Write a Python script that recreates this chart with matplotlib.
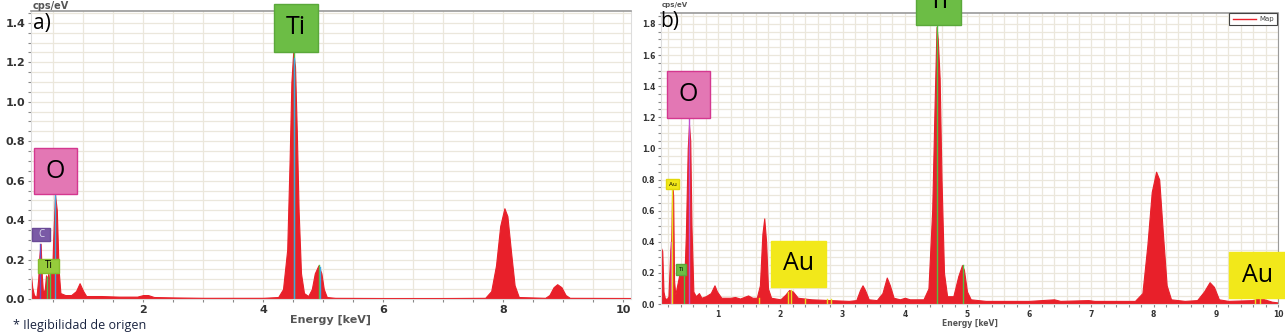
import numpy as np
import matplotlib.pyplot as plt
from matplotlib.patches import Rectangle
from matplotlib.ticker import MultipleLocator

# spectrum a) : energy (keV), counts (cps/eV)
energy_a = [0.13, 0.15, 0.18, 0.22, 0.25, 0.27, 0.29, 0.31, 0.33, 0.36, 0.38, 0.40, 0.42, 0.44,
            0.46, 0.48, 0.50, 0.53, 0.56, 0.59, 0.62, 0.70, 0.80, 0.88, 0.94, 1.00, 1.05, 1.30,
            1.60, 1.90, 2.00, 2.08, 2.18, 2.50, 3.00, 3.50, 4.00, 4.25, 4.33, 4.40, 4.44, 4.47,
            4.50, 4.53, 4.56, 4.59, 4.63, 4.68, 4.75, 4.81, 4.86, 4.92, 4.97, 5.01, 5.06, 5.20,
            6.00, 7.00, 7.70, 7.80, 7.88, 7.95, 8.02, 8.07, 8.13, 8.19, 8.26, 8.70, 8.77, 8.84,
            8.90, 8.97, 9.04, 9.11, 10.2]
counts_a = [0.12, 0.06, 0.02, 0.01, 0.10, 0.22, 0.28, 0.12, 0.03, 0.05, 0.12, 0.10, 0.13, 0.08,
            0.14, 0.10, 0.30, 0.53, 0.45, 0.15, 0.03, 0.02, 0.02, 0.04, 0.08, 0.04, 0.015, 0.015,
            0.012, 0.012, 0.02, 0.02, 0.01, 0.008, 0.006, 0.006, 0.006, 0.01, 0.05, 0.25, 0.70, 1.10,
            1.25, 1.18, 0.85, 0.45, 0.13, 0.03, 0.015, 0.05, 0.13, 0.17, 0.13, 0.05, 0.01, 0.006,
            0.005, 0.005, 0.006, 0.04, 0.17, 0.37, 0.46, 0.42, 0.24, 0.07, 0.01, 0.006, 0.02, 0.06,
            0.075, 0.06, 0.02, 0.006, 0.005]

# spectrum b)
energy_b = [0.08, 0.10, 0.12, 0.14, 0.17, 0.20, 0.23, 0.245, 0.26, 0.275, 0.29, 0.31, 0.34, 0.37,
            0.40, 0.43, 0.46, 0.48, 0.51, 0.53, 0.55, 0.57, 0.60, 0.64, 0.69, 0.73, 0.80, 0.88,
            0.94, 0.98, 1.05, 1.20, 1.27, 1.35, 1.48, 1.55, 1.62, 1.67, 1.71, 1.74, 1.77, 1.80,
            1.85, 2.00, 2.08, 2.14, 2.20, 2.28, 2.50, 2.80, 3.10, 3.22, 3.28, 3.32, 3.36, 3.42,
            3.55, 3.64, 3.71, 3.76, 3.82, 3.92, 4.00, 4.08, 4.30, 4.38, 4.44, 4.48, 4.51, 4.53,
            4.56, 4.59, 4.63, 4.68, 4.78, 4.86, 4.92, 4.95, 5.00, 5.06, 5.30, 6.00, 6.40, 6.50,
            6.95, 7.05, 7.70, 7.82, 7.90, 7.97, 8.04, 8.09, 8.15, 8.21, 8.28, 8.50, 8.70, 8.81,
            8.90, 8.97, 9.05, 9.20, 9.60, 9.70, 9.78, 9.90, 10.0]
counts_b = [0.36, 0.34, 0.08, 0.04, 0.03, 0.05, 0.35, 0.42, 0.75, 0.70, 0.15, 0.06, 0.12, 0.18,
            0.20, 0.19, 0.22, 0.45, 1.00, 1.15, 1.05, 0.50, 0.08, 0.05, 0.07, 0.04, 0.05, 0.07,
            0.12, 0.08, 0.04, 0.04, 0.045, 0.035, 0.055, 0.04, 0.04, 0.12, 0.45, 0.55, 0.40, 0.10,
            0.04, 0.03, 0.06, 0.09, 0.08, 0.04, 0.03, 0.025, 0.02, 0.025, 0.09, 0.12, 0.09, 0.03,
            0.025, 0.07, 0.17, 0.12, 0.04, 0.03, 0.04, 0.03, 0.03, 0.10, 0.60, 1.30, 1.78, 1.70,
            1.45, 0.80, 0.20, 0.05, 0.05, 0.18, 0.25, 0.22, 0.08, 0.03, 0.02, 0.02, 0.03, 0.02,
            0.025, 0.02, 0.02, 0.07, 0.38, 0.72, 0.85, 0.80, 0.45, 0.12, 0.03, 0.02, 0.025, 0.08,
            0.14, 0.11, 0.03, 0.02, 0.025, 0.04, 0.03, 0.015, 0.01]

# element marker lines: energy, height, colour
marks_a = [(0.277, 0.28, '#6a4fc8'), (0.39, 0.11, '#4cc04c'), (0.45, 0.13, '#4cc04c'),
           (0.525, 0.56, '#3fa8e0'), (4.51, 1.25, '#55c040'), (4.52, 1.22, '#3fa8e0'),
           (4.93, 0.17, '#55c040'), (4.94, 0.16, '#3fa8e0')]
marks_b = [(0.24, 0.40, '#e060c0'), (0.255, 0.75, '#e8e020'), (0.45, 0.18, '#4cc04c'),
           (0.525, 1.20, '#c050d0'), (1.65, 0.04, '#e8e020'), (2.12, 0.08, '#e8e020'),
           (2.17, 0.09, '#e8e020'), (2.40, 0.03, '#e8e020'), (2.75, 0.03, '#e8e020'),
           (2.82, 0.03, '#e8e020'), (4.51, 1.80, '#55c040'), (4.93, 0.25, '#55c040'),
           (9.63, 0.03, '#e8e020'), (9.71, 0.04, '#e8e020')]

W, H = 1285, 335
fig = plt.figure(figsize=(W / 100, H / 100), dpi=100)
plt.rcParams['font.family'] = ['DejaVu Sans']

def axes_px(x0, y0, x1, y1):
    return fig.add_axes([x0 / W, 1 - y1 / H, (x1 - x0) / W, (y1 - y0) / H])

def box(x0, y0, x1, y1, fc, ec, label, size, tc='black', ty=None):
    fig.add_artist(Rectangle((x0 / W, 1 - y1 / H), (x1 - x0) / W, (y1 - y0) / H,
                             transform=fig.transFigure, fc=fc, ec=ec, lw=1, clip_on=False))
    cy = (y0 + y1) / 2 if ty is None else ty
    fig.text((x0 + x1) / 2 / W, 1 - cy / H, label, ha='center', va='center',
             fontsize=size, color=tc, family='Open Sans')

def style(ax, xlim, ylim, xmaj, xgrid, tsize):
    ax.set_xlim(*xlim)
    ax.set_ylim(*ylim)
    ax.xaxis.set_major_locator(MultipleLocator(xmaj))
    ax.xaxis.set_minor_locator(MultipleLocator(xgrid))
    ax.yaxis.set_major_locator(MultipleLocator(0.2))
    ax.yaxis.set_minor_locator(MultipleLocator(0.05))
    ax.yaxis.set_major_formatter(lambda v, p: f'{v:.1f}')
    ax.xaxis.set_major_formatter(lambda v, p: f'{v:g}')
    ax.grid(which='both', color='#ebe7dc', lw=0.9)
    ax.set_axisbelow(True)
    ax.tick_params(which='both', labelsize=tsize, colors='#888888', labelcolor='#333333',
                   length=2.5, width=0.8, pad=1.5)
    for lab in ax.get_xticklabels() + ax.get_yticklabels():
        lab.set_fontweight('bold')
    for s in ax.spines.values():
        s.set_color('#dddddd')
    ax.spines['top'].set_color('#9a9a9a')
    ax.spines['top'].set_linewidth(1.2)

# panel a
ax1 = axes_px(31, 11, 631, 299)
ax1.fill_between(energy_a, counts_a, color='#e8202a', lw=0.8, edgecolor='#e8202a')
for e, h, c in marks_a:
    ax1.plot([e, e], [0, h], color=c, lw=1.0)
style(ax1, (0.13, 10.13), (0, 1.46), 2, 0.5, 8)
ax1.set_xlabel('Energy [keV]', fontsize=8, fontweight='bold', color='#555555', labelpad=0)
fig.text(33 / W, 1 - 6 / H, 'cps/eV', fontsize=7, fontweight='bold', color='#555555',
         va='center')
fig.text(33 / W, 1 - 23 / H, 'a)', fontsize=15, va='center', family='Open Sans')

# panel b
ax2 = axes_px(661, 13, 1278, 304)
ax2.fill_between(energy_b, counts_b, color='#e8202a', lw=0.8, edgecolor='#e8202a', label='Map')
for e, h, c in marks_b:
    ax2.plot([e, e], [0, h], color=c, lw=1.0)
style(ax2, (0.08, 10.0), (0, 1.87), 1, 0.2, 5.5)
ax2.spines['right'].set_color('#9a9a9a')
ax2.set_xlabel('Energy [keV]', fontsize=5.5, fontweight='bold', color='#555555', labelpad=0)
fig.text(662 / W, 1 - 5 / H, 'cps/eV', fontsize=5, fontweight='bold', color='#555555',
         va='center')
fig.text(660 / W, 1 - 22 / H, 'b)', fontsize=15, va='center', family='Open Sans')

# legend "Map"
fig.add_artist(Rectangle((1229 / W, 1 - 25 / H), 48 / W, 12 / H, transform=fig.transFigure,
                         fc='white', ec='#444444', lw=0.8))
fig.add_artist(plt.Line2D([1233 / W, 1256 / W], [1 - 19 / H, 1 - 19 / H],
                          transform=fig.transFigure, color='#e8202a', lw=1))
fig.text(1259 / W, 1 - 19 / H, 'Map', fontsize=5, va='center', color='#444444')

# element labels
box(274, 4, 318, 52, '#6cbd45', '#5aa83a', 'Ti', 18)
box(34, 148, 77, 194, '#e377b4', '#d4378f', 'O', 18)
box(32, 228, 50, 241, '#7a5aa6', '#6a4a96', 'C', 7, tc='#e0e0f0')
box(38, 259, 59, 273, '#96cc3c', '#86bc2c', 'Ti', 7)
box(916, -22, 961, 25, '#6cbd45', '#5aa83a', 'Ti', 18)
box(667, 71, 710, 118, '#e377b4', '#d4378f', 'O', 18)
box(666, 179, 679, 189, '#f2e81a', '#e2d80a', 'Au', 4.5)
box(676, 264, 686, 275, '#6cbd45', '#5aa83a', 'Ti', 4.5)
box(771, 241, 826, 287, '#f2e81a', '#f2e81a', 'Au', 18)
box(1229, 252, 1286, 298, '#f2e81a', '#f2e81a', 'Au', 18)

fig.text(13 / W, 1 - 325 / H, '* Ilegibilidad de origen', fontsize=9, va='center',
         color='#1a2440', family='Open Sans')

fig.savefig('out.png', dpi=100)
